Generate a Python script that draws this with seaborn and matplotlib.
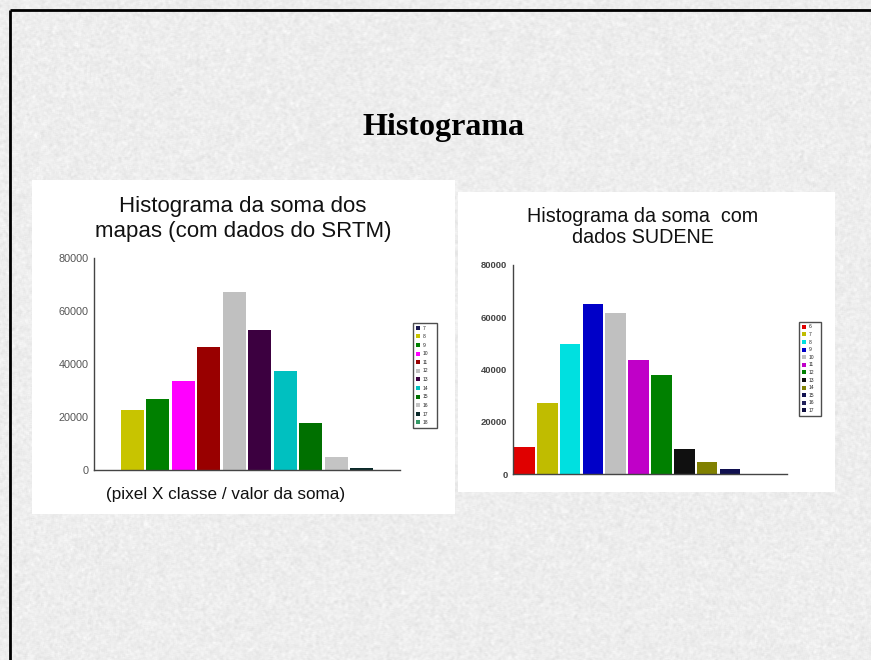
import numpy as np
import matplotlib
matplotlib.use("Agg")
import matplotlib.pyplot as plt
from matplotlib.patches import Rectangle, Patch
import seaborn as sns

# ---- data -------------------------------------------------------------
srtm_classes = ["7", "8", "9", "10", "11", "12", "13", "14", "15", "16", "17", "18"]
srtm_counts = [0, 22600, 26700, 33600, 46500, 67300, 52800, 37200, 17600, 4800, 600, 0]
srtm_colors = ["#1a1a50", "#c8c400", "#008000", "#ff00ff", "#990000", "#c0c0c0",
               "#3c0040", "#00c0c0", "#007000", "#c4c4c4", "#0a2a2a", "#339966"]

sudene_classes = ["6", "7", "8", "9", "10", "11", "12", "13", "14", "15", "16", "17"]
sudene_counts = [10200, 27000, 49700, 64900, 61700, 43600, 37800, 9400, 4500, 1800, 150, 0]
sudene_colors = ["#e00000", "#c0bc00", "#00e0e0", "#0000c8", "#c0c0c0", "#c000c8",
                 "#008000", "#101010", "#808000", "#101050", "#20205a", "#101040"]

y_ticks = [0, 20000, 40000, 60000, 80000]

W, H = 871, 660
sns.set_theme(style="white")
plt.rcParams["font.family"] = ["Liberation Sans", "DejaVu Sans"]

fig = plt.figure(figsize=(W / 100, H / 100), dpi=100)

# ---- slide background: speckled paper texture ------------------------
rng = np.random.default_rng(7)
noise = rng.normal(0, 1, (H + 4, W + 4))
k = np.ones(3) / 3
noise = np.apply_along_axis(lambda r: np.convolve(r, k, mode="same"), 1, noise)
noise = np.apply_along_axis(lambda c: np.convolve(c, k, mode="same"), 0, noise)
noise = noise[2:-2, 2:-2]
tex = np.clip(0.93 + 0.04 * noise, 0.80, 1.0)

bg = fig.add_axes([0, 0, 1, 1])
bg.imshow(tex, cmap="gray", vmin=0, vmax=1, extent=[0, W, H, 0],
          interpolation="bilinear", aspect="auto")
bg.set_xlim(0, W)
bg.set_ylim(H, 0)
bg.axis("off")

# slide frame (top and left edges)
bg.plot([10, W], [10, 10], color="black", lw=2, solid_capstyle="butt")
bg.plot([10, 10], [10, H], color="black", lw=2, solid_capstyle="butt")

# white panels behind the two charts
bg.add_patch(Rectangle((32, 180), 423, 334, facecolor="white", edgecolor="none"))
bg.add_patch(Rectangle((458, 192), 377, 300, facecolor="white", edgecolor="none"))

bg.text(443, 128, "Histograma", ha="center", va="center", fontsize=23,
        fontweight="bold", family=["Liberation Serif", "DejaVu Serif"], color="black")

bg.text(243, 219, "Histograma da soma dos\nmapas (com dados do SRTM)", ha="center",
        va="center", fontsize=16, color="#111111", linespacing=1.22)
bg.text(226, 495, "(pixel X classe / valor da soma)", ha="center", va="center",
        fontsize=12.3, color="#111111")
bg.text(643, 227, "Histograma da soma  com\ndados SUDENE", ha="center",
        va="center", fontsize=14.2, color="#111111", linespacing=1.08)


def px_axes(x0, y0, x1, y1):
    return fig.add_axes([x0 / W, 1 - y1 / H, (x1 - x0) / W, (y1 - y0) / H])


def draw_hist(ax, classes, counts, colors, tick_kw, legend_box, spacing):
    sns.barplot(x=classes, y=counts, hue=classes, palette=colors, order=classes,
                hue_order=classes, width=0.9, linewidth=0, legend=False, ax=ax,
                saturation=1)
    ax.set_xlim(-0.5, len(classes) - 0.5)
    ax.set_ylim(0, 80000)
    ax.set_yticks(y_ticks)
    ax.set_yticklabels([str(t) for t in y_ticks], **tick_kw)
    ax.set_xticks([])
    ax.set_xlabel("")
    ax.set_ylabel("")
    ax.tick_params(axis="y", length=0, pad=4)
    ax.patch.set_alpha(0)
    for s in ("top", "right"):
        ax.spines[s].set_visible(False)
    for s in ("left", "bottom"):
        ax.spines[s].set_color("#444444")
        ax.spines[s].set_linewidth(1.0)
    handles = [Patch(facecolor=c, edgecolor="none") for c in colors]
    x0, y0, x1, y1 = legend_box
    leg = ax.legend(handles, classes, loc="upper left",
                    bbox_to_anchor=(x0 / W, 1 - y1 / H, (x1 - x0) / W, (y1 - y0) / H),
                    bbox_transform=fig.transFigure, mode="expand",
                    fontsize=3.6, handlelength=0.9, handleheight=0.9,
                    handletextpad=0.6, labelspacing=spacing, borderpad=0.5,
                    borderaxespad=0, frameon=True, fancybox=False)
    leg.get_frame().set_edgecolor("#222222")
    leg.get_frame().set_linewidth(1.0)


ax1 = px_axes(94, 258, 400, 470)
draw_hist(ax1, srtm_classes, srtm_counts, srtm_colors,
          dict(fontsize=7.8, color="#555555"), (413, 323, 437, 427), 0.72)

ax2 = px_axes(513, 265, 787, 474)
draw_hist(ax2, sudene_classes, sudene_counts, sudene_colors,
          dict(fontsize=6.8, color="#444444", fontweight="bold"), (799, 322, 821, 415),
          0.52)

fig.savefig("out.png", dpi=100)
